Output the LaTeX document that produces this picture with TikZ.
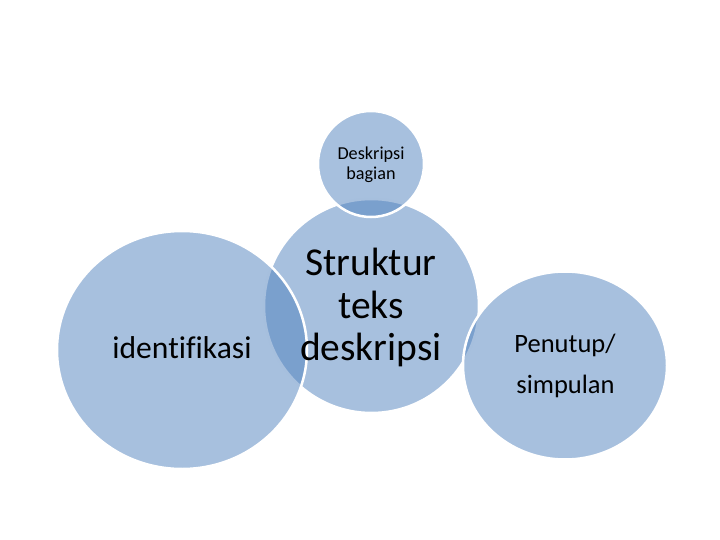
\documentclass[tikz,border=0pt]{standalone}
\usepackage{fontspec}
\setmainfont{Carlito}[Ligatures={NoCommon,NoRare,NoContextual}]
\usetikzlibrary{shapes.geometric}
\definecolor{accent}{HTML}{4F81BD}
\tikzset{
  bubble/.style={ellipse, inner sep=0pt, fill=accent, fill opacity=0.5, draw=white, line width=2.5pt},
  txt/.style={anchor=base, inner sep=0pt, text=black, text opacity=1}
}
\begin{document}
\begin{tikzpicture}[x=1pt,y=-1pt]
\useasboundingbox (0,0) rectangle (720,540);
% circles
\node[bubble, minimum width=215pt, minimum height=214pt] (mid) at (371.5,306) {};
\node[bubble, minimum width=106pt, minimum height=106pt] (top) at (371,164) {};
\node[bubble, minimum width=250pt, minimum height=238pt] (left) at (182,350) {};
\node[bubble, minimum width=204pt, minimum height=188pt] (right) at (565,365.5) {};
% texts
\node[txt, font=\fontsize{18.2}{20}\selectfont] (t1a) at (371,160) {Deskripsi};
\node[txt, font=\fontsize{18.2}{20}\selectfont] (t1b) at (371,180) {bagian};
\node[txt, font=\fontsize{39.5}{42}\selectfont] (m1) at (371,275) {Struktur};
\node[txt, font=\fontsize{39.5}{42}\selectfont] (m2) at (371,318) {teks};
\node[txt, font=\fontsize{39.5}{42}\selectfont] (m3) at (371,360) {deskripsi};
\node[txt, font=\fontsize{31.6}{34}\selectfont] (l1) at (182,358) {identifikasi};
\node[txt, font=\fontsize{26.5}{30}\selectfont] (r1) at (565,352) {Penutup/};
\node[txt, font=\fontsize{26.5}{30}\selectfont] (r2) at (565.5,393) {simpulan};
\end{tikzpicture}
\end{document}
